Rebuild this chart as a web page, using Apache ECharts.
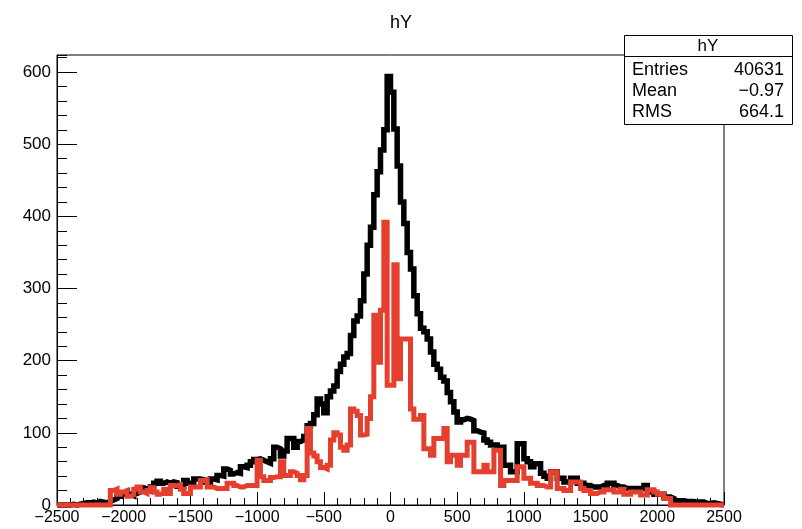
<!DOCTYPE html>
<html>
<head>
<meta charset="utf-8">
<script src="https://cdn.jsdelivr.net/npm/echarts@6/dist/echarts.min.js"></script>
<style>
  html, body { margin: 0; padding: 0; background: #fff; }
  #chart { width: 802px; height: 529px; }
</style>
</head>
<body>
<div id="chart"></div>
<script>
// Histogram binning: 200 bins of width 25 over [-2500, 2500]
const X_MIN = -2500;
const X_MAX = 2500;
const BIN_WIDTH = 25;

// hY bin contents (all entries), left to right
const hY = [
  0, 0, 0, 0, 1, 0, 1, 2, 3, 3,               // -2500 .. -2250
  4, 3, 5, 4, 3, 5, 7, 9, 12, 16,             // -2250 .. -2000
  18, 15, 13, 16, 18, 24, 22, 20, 25, 30,     // -2000 .. -1750
  33, 30, 32, 30, 32, 31, 26, 25, 34, 30,     // -1750 .. -1500
  30, 36, 36, 35, 32, 31, 36, 35, 41, 40,     // -1500 .. -1250
  50, 48, 43, 45, 44, 53, 52, 55, 60, 63,     // -1250 .. -1000
  64, 62, 60, 58, 64, 80, 78, 68, 75, 92,     // -1000 .. -750
  92, 80, 88, 90, 95, 110, 113, 125, 147, 140,        // -750 .. -500
  128, 150, 158, 165, 185, 195, 205, 210, 235, 255,   // -500 .. -250
  262, 283, 320, 360, 385, 430, 462, 492, 520, 594,   // -250 .. 0
  572, 521, 470, 420, 390, 350, 327, 290, 265, 245,   // 0 .. 250
  240, 230, 212, 195, 188, 177, 172, 156, 143, 129,   // 250 .. 500
  115, 118, 120, 119, 117, 103, 101, 100, 90, 87,     // 500 .. 750
  83, 83, 80, 80, 55, 55, 46, 46, 85, 85,     // 750 .. 1000
  64, 60, 53, 57, 57, 44, 40, 37, 46, 46,     // 1000 .. 1250
  37, 37, 32, 32, 37, 37, 30, 30, 27, 27,     // 1250 .. 1500
  25, 25, 25, 27, 27, 30, 30, 27, 25, 25,     // 1500 .. 1750
  23, 23, 23, 23, 23, 23, 27, 18, 18, 15,     // 1750 .. 2000
  15, 15, 11, 11, 9, 6, 6, 6, 5, 5,           // 2000 .. 2250
  5, 4, 4, 4, 2, 2, 3, 2, 1, 0                // 2250 .. 2500
];

// Selected subset, drawn in red on top
const hYsel = [
  0, 0, 0, 0, 0, 0, 0, 0, 0, 0,               // -2500 .. -2250
  0, 0, 0, 0, 0, 0, 20, 22, 15, 18,           // -2250 .. -2000
  20, 12, 14, 22, 25, 18, 16, 20, 24, 18,     // -2000 .. -1750
  15, 17, 22, 16, 27, 27, 28, 22, 16, 16,     // -1750 .. -1500
  25, 25, 25, 34, 35, 25, 25, 23, 23, 23,     // -1500 .. -1250
  23, 30, 30, 27, 25, 25, 27, 27, 27, 27,     // -1250 .. -1000
  62, 39, 34, 34, 38, 39, 39, 60, 41, 41,     // -1000 .. -750
  46, 44, 41, 35, 41, 106, 72, 68, 60, 52,    // -750 .. -500
  50, 55, 90, 100, 97, 80, 76, 83, 133, 130,  // -500 .. -250
  124, 97, 98, 120, 150, 263, 198, 270, 392, 166,     // -250 .. 0
  166, 333, 175, 230, 230, 230, 133, 119, 119, 124,   // 0 .. 250
  78, 78, 69, 92, 92, 92, 106, 60, 69, 69,    // 250 .. 500
  55, 69, 69, 87, 87, 46, 46, 46, 55, 46,     // 500 .. 750
  46, 76, 76, 27, 34, 34, 34, 34, 53, 53,     // 750 .. 1000
  37, 37, 30, 30, 27, 27, 25, 25, 46, 46,     // 1000 .. 1250
  23, 23, 20, 20, 32, 32, 32, 23, 20, 20,     // 1250 .. 1500
  16, 16, 18, 18, 21, 21, 21, 18, 18, 22,     // 1500 .. 1750
  15, 15, 18, 18, 18, 14, 14, 21, 21, 18,     // 1750 .. 2000
  15, 15, 9, 9, 0, 0, 0, 0, 0, 0,             // 2000 .. 2250
  0, 0, 0, 0, 0, 0, 0, 0, 0, 0                // 2250 .. 2500
];

// Statistics box contents
const statTitle = 'hY';
const statNames = ['Entries', 'Mean', 'RMS'];
const statValues = ['40631', '\u22120.97', '664.1'];

const FONT = '"Liberation Sans", Arial, Helvetica, sans-serif';

// Turn bin contents into step-line points: one point per lower edge, plus the upper edge
function toSteps(values) {
  const pts = values.map((v, i) => [X_MIN + i * BIN_WIDTH, v]);
  pts.push([X_MAX, values[values.length - 1]]);
  return pts;
}

// y range follows the usual 5% headroom above the tallest bin
const Y_MAX = Math.max(...hY) * 1.05;

const signed = v => (v < 0 ? '\u2212' : '') + Math.abs(v);

const GRID = { left: 57, right: 78, top: 55, bottom: 24 };

const baseAxis = {
  type: 'value',
  splitLine: { show: false },
  axisLine: { show: false, onZero: false },
};

const chart = echarts.init(document.getElementById('chart'), null, { renderer: 'canvas' });

chart.setOption({
  animation: false,
  backgroundColor: '#fff',
  title: {
    text: 'hY',
    left: 'center',
    top: 9,
    textStyle: { fontFamily: FONT, fontSize: 18, fontWeight: 'normal', color: '#000' }
  },
  grid: Object.assign({ show: true, borderColor: '#000', borderWidth: 1, backgroundColor: 'transparent' }, GRID),
  xAxis: [
    Object.assign({}, baseAxis, {
      min: X_MIN, max: X_MAX, interval: 500, position: 'bottom',
      axisLine: { show: true, onZero: false, lineStyle: { color: '#000', width: 1 } },
      axisTick: { show: true, inside: true, length: 13, lineStyle: { color: '#000', width: 1 } },
      axisLabel: { formatter: signed, color: '#000', fontFamily: FONT, fontSize: 16, margin: 5 }
    }),
    Object.assign({}, baseAxis, {
      min: X_MIN, max: X_MAX, interval: 100, position: 'bottom', offset: 0,
      axisTick: { show: true, inside: true, length: 7, lineStyle: { color: '#000', width: 1 } },
      axisLabel: { show: false }
    })
  ],
  yAxis: [
    Object.assign({}, baseAxis, {
      min: 0, max: Y_MAX, interval: 100, position: 'left',
      axisLine: { show: true, onZero: false, lineStyle: { color: '#000', width: 1 } },
      axisTick: { show: true, inside: true, length: 20, lineStyle: { color: '#000', width: 1 } },
      axisLabel: { formatter: signed, color: '#000', fontFamily: FONT, fontSize: 17, margin: 6, showMaxLabel: false }
    }),
    Object.assign({}, baseAxis, {
      min: 0, max: Y_MAX, interval: 20, position: 'left', offset: 0,
      axisTick: { show: true, inside: true, length: 10, lineStyle: { color: '#000', width: 1 } },
      axisLabel: { show: false }
    })
  ],
  series: [
    {
      name: 'hY',
      type: 'line',
      step: 'end',
      data: toSteps(hY),
      xAxisIndex: 0, yAxisIndex: 0,
      symbol: 'none',
      clip: false,
      lineStyle: { color: '#000', width: 5.5, join: 'miter' },
      z: 2
    },
    {
      name: 'hYsel',
      type: 'line',
      step: 'end',
      data: toSteps(hYsel),
      xAxisIndex: 0, yAxisIndex: 0,
      symbol: 'none',
      clip: false,
      lineStyle: { color: '#e5402f', width: 5, join: 'miter' },
      z: 3
    }
  ],
  graphic: [
    {
      type: 'group', z: 100,
      children: [
        { type: 'rect', shape: { x: 624.5, y: 35.5, width: 168, height: 89 },
          style: { fill: '#fff', stroke: '#000', lineWidth: 1 } },
        { type: 'line', shape: { x1: 624.5, y1: 56.5, x2: 792.5, y2: 56.5 },
          style: { stroke: '#000', lineWidth: 1 } },
        { type: 'text', x: 708, y: 46,
          style: { text: statTitle, fill: '#000', font: '17px ' + FONT, align: 'center', verticalAlign: 'middle' } }
      ].concat(
        statNames.map((n, i) => ({
          type: 'text', x: 632, y: 70 + i * 21,
          style: { text: n, fill: '#000', font: '18px ' + FONT, align: 'left', verticalAlign: 'middle' }
        })),
        statValues.map((v, i) => ({
          type: 'text', x: 784, y: 70 + i * 21,
          style: { text: v, fill: '#000', font: '18px ' + FONT, align: 'right', verticalAlign: 'middle' }
        }))
      )
    }
  ]
});
</script>
</body>
</html>
